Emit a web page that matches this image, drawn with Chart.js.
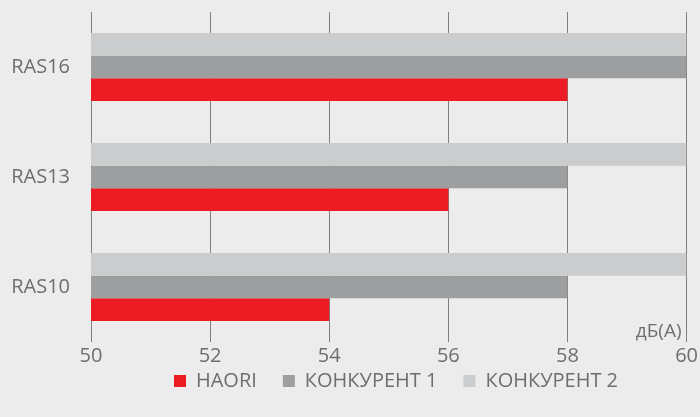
<!DOCTYPE html>
<html>
<head>
<meta charset="utf-8">
<script src="https://cdn.jsdelivr.net/npm/chart.js@4"></script>
<style>
  html, body { margin: 0; padding: 0; background: #ebeceb; }
  #wrap { width: 700px; height: 417px; }
</style>
</head>
<body>
<div id="wrap"><canvas id="noiseChart"></canvas></div>
<script>
const categories = ['RAS16', 'RAS13', 'RAS10'];
const haori = [58, 56, 54];
const konkurent1 = [60, 58, 58];
const konkurent2 = [60, 60, 60];
const xTicks = [50, 52, 54, 56, 58, 60];
const unitLabel = 'дБ(А)';

const fontFamily = "'Open Sans', 'Noto Sans', sans-serif";
const textColor = '#6d6e70';

// label "дБ(А)" in the bottom right corner of the plot
const unitPlugin = {
    id: 'unitLabel',
    afterDatasetsDraw(chart) {
        const ctx = chart.ctx;
        const x = chart.scales.x.getPixelForValue(xTicks[xTicks.length - 1]) - 5;
        const y = chart.chartArea.bottom - 1;
        ctx.save();
        ctx.font = "19px " + fontFamily;
        ctx.fillStyle = textColor;
        ctx.textAlign = 'right';
        ctx.textBaseline = 'bottom';
        ctx.fillText(unitLabel, x, y);
        ctx.restore();
    }
};

// legend: wide gaps between items but a short box in the layout, moved a bit right
const legendShift = {
    id: 'legendShift',
    beforeLayout(chart) {
        const lg = chart.legend;
        if (lg && !lg._fixedFit) {
            const fit = lg.fit.bind(lg);
            lg.fit = function () { fit(); this.height = 45; };
            lg._fixedFit = true;
        }
    },
    afterLayout(chart) {
        const lg = chart.legend;
        lg.left += 47;
        lg.right += 47;
        lg.top -= 27;
        lg.bottom = chart.height;
        lg.height = lg.bottom - lg.top;
    }
};

const ctx = document.getElementById('noiseChart').getContext('2d');
const chart = new Chart(ctx, {
    type: 'bar',
    data: {
        labels: categories,
        datasets: [
            { label: 'КОНКУРЕНТ 2', data: konkurent2, backgroundColor: '#cbcccd' },
            { label: 'КОНКУРЕНТ 1', data: konkurent1, backgroundColor: '#9d9ea0' },
            { label: 'HAORI', data: haori, backgroundColor: '#ed1c24' }
        ]
    },
    options: {
        indexAxis: 'y',
        responsive: true,
        maintainAspectRatio: false,
        animation: false,
        datasets: {
            bar: { barPercentage: 1, categoryPercentage: 0.62, borderWidth: 0 }
        },
        layout: { padding: { top: 12, left: 0, right: 2, bottom: 0 } },
        plugins: {
            legend: {
                position: 'bottom',
                reverse: true,
                labels: {
                    boxWidth: 12,
                    boxHeight: 12,
                    padding: 26,
                    color: textColor,
                    font: { family: fontFamily, size: 20 }
                }
            },
            tooltip: { enabled: false }
        },
        scales: {
            x: {
                min: 50,
                max: 60,
                afterBuildTicks(scale) {
                    scale.ticks = xTicks.map(v => ({ value: v }));
                },
                afterFit(scale) { scale.height = 30; },
                grid: { color: '#7f7f7f', lineWidth: 1, drawTicks: false },
                border: { display: false },
                ticks: {
                    color: textColor,
                    padding: 2,
                    font: { family: fontFamily, size: 20 }
                }
            },
            y: {
                afterFit(scale) {
                    scale.width = 91;
                    scale.paddingTop = 0;
                    scale.paddingBottom = 0;
                },
                grid: { display: false },
                border: { display: false },
                ticks: {
                    color: textColor,
                    padding: 13,
                    font: { family: fontFamily, size: 20 }
                }
            }
        }
    },
    plugins: [unitPlugin, legendShift]
});
</script>
</body>
</html>
